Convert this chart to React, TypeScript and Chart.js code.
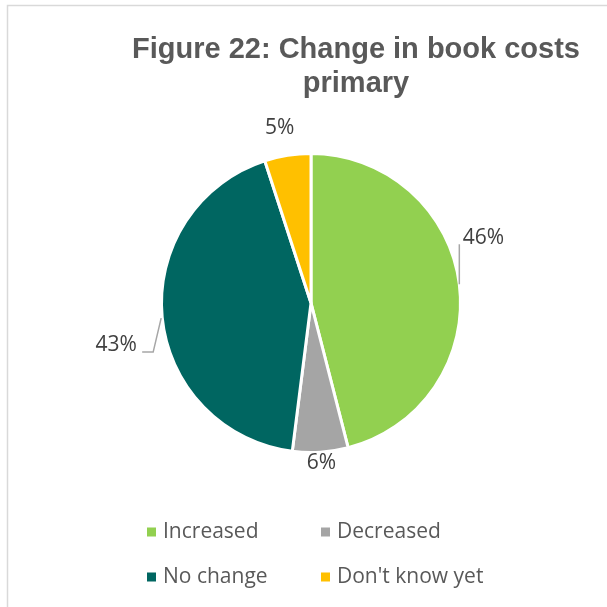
import React, { useEffect, useRef } from "react";
import { Chart, registerables } from "chart.js";

Chart.register(...registerables);

const TITLE_LINES = ["Figure 22: Change in book costs", "primary"];
const CATEGORIES = ["Increased", "Decreased", "No change", "Don't know yet"];
const VALUES = [46, 6, 43, 5];
const COLORS = ["#92D050", "#A5A5A5", "#006661", "#FFC000"];

// label placement relative to the outer-edge midpoint of each slice
const LABEL_LAYOUT = [
  { dx: 24, dy: -46, leader: [[0, 0], [0, -40]] },
  { dx: 1, dy: 11, leader: [] as number[][] },
  { dx: -46, dy: 28, leader: [[-1, 1], [-9, 35], [-20, 35]] },
  { dx: -8, dy: -27, leader: [] as number[][] },
];

const TEXT_COLOR = "#595959";
const LABEL_COLOR = "#404040";

const framePlugin = {
  id: "frame",
  beforeDraw(chart: any) {
    const ctx = chart.ctx;
    ctx.save();
    ctx.strokeStyle = "#D9D9D9";
    ctx.lineWidth = 1.5;
    ctx.beginPath();
    ctx.moveTo(7.5, chart.height);
    ctx.lineTo(7.5, 5.5);
    ctx.lineTo(chart.width, 5.5);
    ctx.stroke();
    ctx.restore();
  },
};

const titlePlugin = {
  id: "customTitle",
  afterDraw(chart: any) {
    const ctx = chart.ctx;
    ctx.save();
    ctx.fillStyle = TEXT_COLOR;
    ctx.font = "bold 29px 'Liberation Sans', Arial, sans-serif";
    ctx.textAlign = "center";
    ctx.textBaseline = "alphabetic";
    TITLE_LINES.forEach((line, i) => {
      ctx.fillText(line, 356, 58 + i * 34);
    });
    ctx.restore();
  },
};

const labelPlugin = {
  id: "sliceLabels",
  afterDatasetsDraw(chart: any) {
    const ctx = chart.ctx;
    const meta = chart.getDatasetMeta(0);
    const data = chart.data.datasets[0].data as number[];
    const total = data.reduce((a, b) => a + b, 0);
    ctx.save();
    meta.data.forEach((arc: any, i: number) => {
      const { x, y, startAngle, endAngle, outerRadius } = arc.getProps(
        ["x", "y", "startAngle", "endAngle", "outerRadius"],
        true
      );
      const mid = (startAngle + endAngle) / 2;
      const ax = x + Math.cos(mid) * outerRadius;
      const ay = y + Math.sin(mid) * outerRadius;
      const lay = LABEL_LAYOUT[i];
      if (lay.leader.length > 1) {
        ctx.strokeStyle = "#A6A6A6";
        ctx.lineWidth = 1.5;
        ctx.beginPath();
        lay.leader.forEach((p, k) => {
          const px = ax + p[0];
          const py = ay + p[1];
          if (k === 0) ctx.moveTo(px, py);
          else ctx.lineTo(px, py);
        });
        ctx.stroke();
      }
      ctx.fillStyle = LABEL_COLOR;
      ctx.font = "21px 'Open Sans', sans-serif";
      ctx.textAlign = "center";
      ctx.textBaseline = "middle";
      const pct = Math.round((data[i] / total) * 100) + "%";
      ctx.fillText(pct, ax + lay.dx, ay + lay.dy);
    });
    ctx.restore();
  },
};

const legendPlugin = {
  id: "gridLegend",
  afterDraw(chart: any) {
    const ctx = chart.ctx;
    const labels = chart.data.labels as string[];
    const colors = chart.data.datasets[0].backgroundColor as string[];
    const colX = [147, 321];
    const rowY = [532, 577];
    ctx.save();
    ctx.font = "21px 'Open Sans', sans-serif";
    ctx.textBaseline = "middle";
    ctx.textAlign = "left";
    labels.forEach((lab, i) => {
      const cx = colX[i % 2];
      const cy = rowY[Math.floor(i / 2)];
      ctx.fillStyle = colors[i];
      ctx.fillRect(cx, cy - 4.5, 9, 9);
      ctx.fillStyle = TEXT_COLOR;
      ctx.fillText(lab, cx + 16, cy);
    });
    ctx.restore();
  },
};

export default function App() {
  const ref = useRef<HTMLCanvasElement | null>(null);
  useEffect(() => {
    if (!ref.current) return;
    const chart = new Chart(ref.current, {
      type: "pie",
      data: {
        labels: CATEGORIES,
        datasets: [
          {
            data: VALUES,
            backgroundColor: COLORS,
            borderColor: "#FFFFFF",
            borderWidth: 3,
            hoverOffset: 0,
          },
        ],
      },
      options: {
        responsive: false,
        animation: false,
        layout: { padding: { left: 160, right: 145, top: 152, bottom: 153 } },
        plugins: {
          legend: { display: false },
          title: { display: false },
          tooltip: { enabled: false },
        },
      },
      plugins: [framePlugin, titlePlugin, labelPlugin, legendPlugin],
    });
    return () => chart.destroy();
  }, []);
  return (
    <div style={{ position: "fixed", left: 0, top: 0, width: 607, height: 607, background: "#fff" }}>
      <canvas ref={ref} width={607} height={607} style={{ display: "block" }} />
    </div>
  );
}
